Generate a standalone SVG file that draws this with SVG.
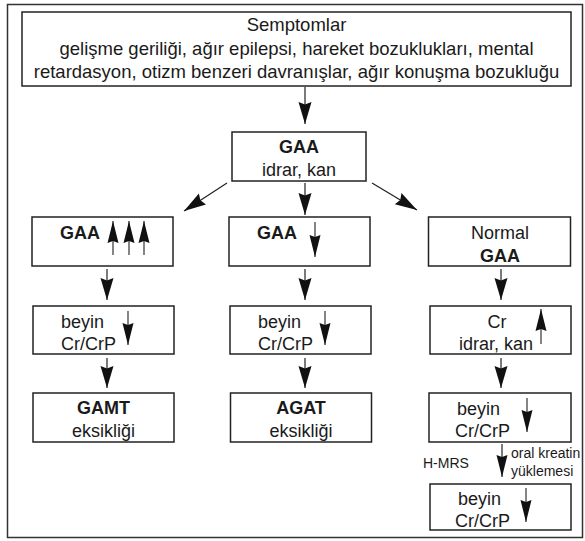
<svg xmlns="http://www.w3.org/2000/svg" width="585" height="541" viewBox="0 0 585 541">
<style>
.box{fill:#fff;stroke:#222;stroke-width:1.5}
.t{font-family:"Liberation Sans",Arial,sans-serif;font-size:18px;fill:#1a1a1a}
.big{font-size:18.5px}
.b{font-weight:bold}
.m{text-anchor:middle}
.s{font-size:14px}
.ln{stroke:#222;stroke-width:1.2;fill:none}
.ind{stroke:#333;stroke-width:1.2;fill:none}
</style>
<defs>
<marker id="ah" markerUnits="userSpaceOnUse" markerWidth="24" markerHeight="14" refX="22" refY="6.5" orient="auto" overflow="visible">
<path d="M0,0 L22,6.5 L0,13 L2.5,6.5 Z" fill="#111"/>
</marker>
<marker id="ahs" markerUnits="userSpaceOnUse" markerWidth="24" markerHeight="14" refX="22" refY="5.5" orient="auto" overflow="visible">
<path d="M0,0 L22,5.5 L0,11 L2,5.5 Z" fill="#111"/>
</marker>
</defs>
<rect x="7.5" y="4.5" width="575" height="533" fill="#fff" stroke="#333" stroke-width="1.5"/>

<g id="connectors">
<line class="ln" x1="305" y1="87" x2="305" y2="124" marker-end="url(#ah)"/>
<line class="ln" x1="227" y1="183" x2="184" y2="211" marker-end="url(#ah)"/>
<line class="ln" x1="305" y1="183" x2="305" y2="215" marker-end="url(#ah)"/>
<line class="ln" x1="372" y1="183" x2="417" y2="210" marker-end="url(#ah)"/>
<line class="ln" x1="107" y1="269" x2="107" y2="300" marker-end="url(#ah)"/>
<line class="ln" x1="305" y1="269" x2="305" y2="300" marker-end="url(#ah)"/>
<line class="ln" x1="501" y1="269" x2="501" y2="300" marker-end="url(#ah)"/>
<line class="ln" x1="107" y1="358" x2="107" y2="388" marker-end="url(#ah)"/>
<line class="ln" x1="305" y1="358" x2="305" y2="388" marker-end="url(#ah)"/>
<line class="ln" x1="501" y1="358" x2="501" y2="388" marker-end="url(#ah)"/>
<line class="ln" x1="502" y1="444" x2="502" y2="477" marker-end="url(#ahs)"/>
<text class="t s" x="423" y="468">H-MRS</text>
<text class="t s" x="511" y="458">oral kreatin</text>
<text class="t s" x="511" y="476">yüklemesi</text>
</g>

<g id="n-semptomlar">
<rect class="box" x="22" y="12" width="549" height="74"/>
<text class="t big m" x="296.5" y="31">Semptomlar</text>
<text class="t big m" x="296.5" y="55">gelişme geriliği, ağır epilepsi, hareket bozuklukları, mental</text>
<text class="t big m" x="296.5" y="78">retardasyon, otizm benzeri davranışlar, ağır konuşma bozukluğu</text>
</g>

<g id="n-gaa">
<rect class="box" x="232" y="132" width="134" height="49"/>
<text class="t m b" x="299" y="153">GAA</text>
<text class="t m" x="299" y="176">idrar, kan</text>
</g>

<g id="n-gaa-high">
<rect class="box" x="32" y="217" width="141" height="49"/>
<text class="t b" x="60" y="239">GAA</text>
<line class="ind" x1="113" y1="255" x2="113" y2="221" marker-end="url(#ahs)"/>
<line class="ind" x1="129" y1="255" x2="129" y2="221" marker-end="url(#ahs)"/>
<line class="ind" x1="144" y1="255" x2="144" y2="221" marker-end="url(#ahs)"/>
</g>

<g id="n-gaa-low">
<rect class="box" x="229" y="217" width="141" height="49"/>
<text class="t b" x="257" y="239">GAA</text>
<line class="ind" x1="315" y1="222" x2="315" y2="257" marker-end="url(#ahs)"/>
</g>

<g id="n-gaa-normal">
<rect class="box" x="428.5" y="217" width="142" height="49"/>
<text class="t m" x="500" y="238.5">Normal</text>
<text class="t m b" x="500" y="261.5">GAA</text>
</g>

<g id="n-beyin-left">
<rect class="box" x="33" y="306" width="141" height="48"/>
<text class="t" x="61" y="328">beyin</text>
<text class="t" x="61" y="350">Cr/CrP</text>
<line class="ind" x1="128" y1="311" x2="128" y2="345" marker-end="url(#ahs)"/>
</g>

<g id="n-beyin-mid">
<rect class="box" x="230" y="306" width="141" height="48"/>
<text class="t" x="258" y="328">beyin</text>
<text class="t" x="258" y="350">Cr/CrP</text>
<line class="ind" x1="325" y1="311" x2="325" y2="345" marker-end="url(#ahs)"/>
</g>

<g id="n-cr">
<rect class="box" x="430" y="306" width="141" height="48"/>
<text class="t m" x="497" y="328">Cr</text>
<text class="t m" x="496" y="350">idrar, kan</text>
<line class="ind" x1="541" y1="344" x2="541" y2="309" marker-end="url(#ahs)"/>
</g>

<g id="n-gamt">
<rect class="box" x="33" y="393" width="141" height="49"/>
<text class="t m b" x="103.5" y="414">GAMT</text>
<text class="t m" x="103.5" y="437">eksikliği</text>
</g>

<g id="n-agat">
<rect class="box" x="230.5" y="393" width="141" height="49"/>
<text class="t m b" x="301" y="414">AGAT</text>
<text class="t m" x="301" y="437">eksikliği</text>
</g>

<g id="n-beyin-right">
<rect class="box" x="429" y="393" width="142" height="49"/>
<text class="t" x="457" y="415">beyin</text>
<text class="t" x="455" y="437">Cr/CrP</text>
<line class="ind" x1="527" y1="398" x2="527" y2="432" marker-end="url(#ahs)"/>
</g>

<g id="n-beyin-final">
<rect class="box" x="430" y="484" width="141" height="46"/>
<text class="t" x="458" y="505">beyin</text>
<text class="t" x="455" y="527">Cr/CrP</text>
<line class="ind" x1="526" y1="488" x2="526" y2="522" marker-end="url(#ahs)"/>
</g>
</svg>
